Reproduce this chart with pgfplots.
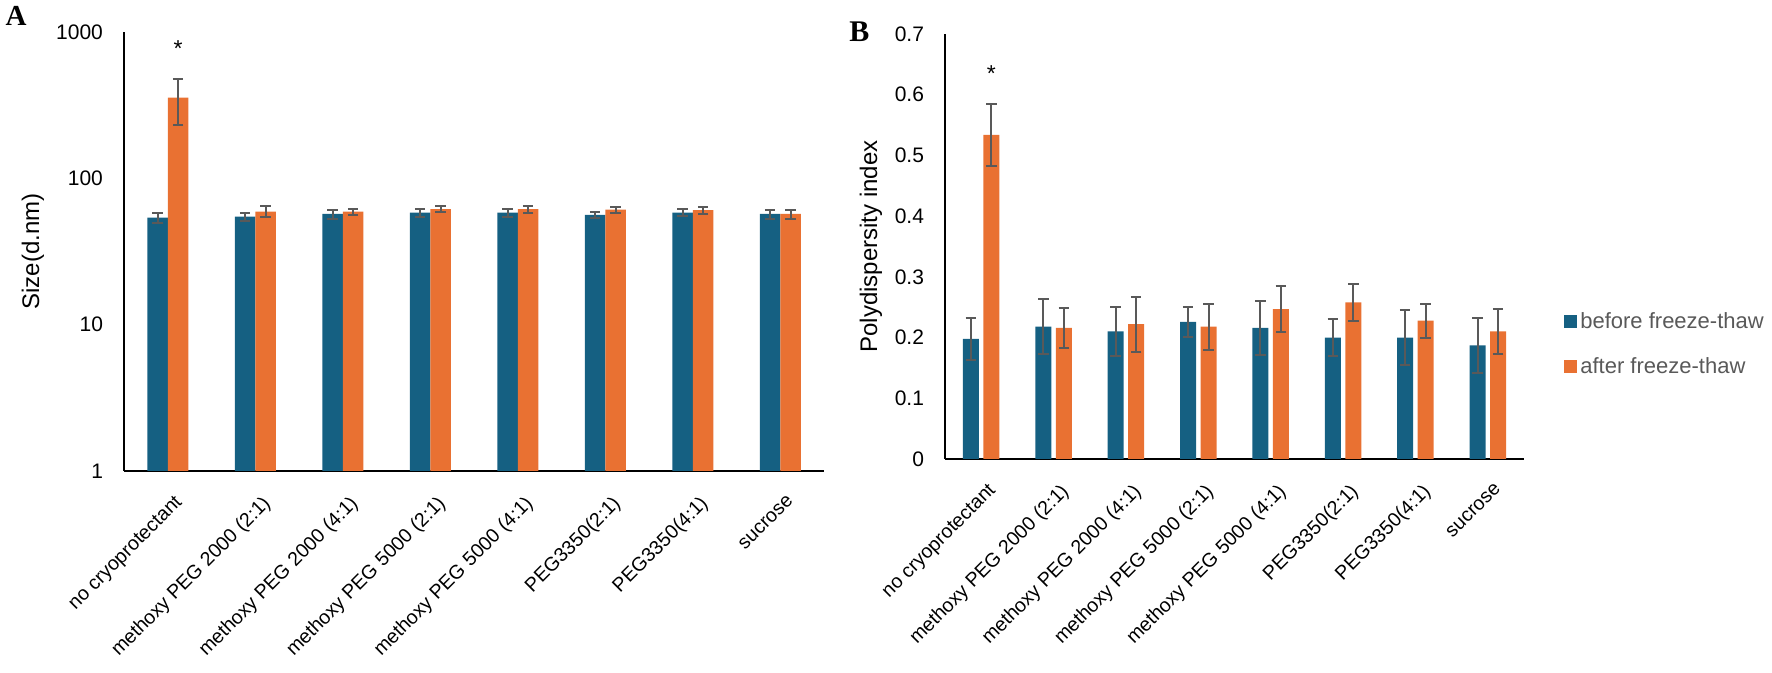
\documentclass[border=0pt]{standalone}
\usepackage{pgfplots}
\pgfplotsset{compat=1.18}
\usepackage{fontspec}
\setmainfont{Liberation Sans}
\newfontfamily\panelfont{Liberation Serif}

\definecolor{cblue}{HTML}{156082}
\definecolor{corange}{HTML}{E97132}
\definecolor{errgrey}{HTML}{595959}
\definecolor{legtext}{HTML}{595959}

% size, nm (before / after freeze-thaw)
\pgfplotstableread{
x  y     err
0  53.9  4.0
1  54.7  3.5
2  57.1  4.0
3  58.3  3.5
4  58.3  3.5
5  56.2  3.0
6  58.3  3.0
7  57.1  4.0
}\sizebefore
\pgfplotstableread{
x  y     err
0  356   125
1  59.2  5.0
2  59.2  3.0
3  61.5  3.0
4  61.5  3.5
5  61.1  2.7
6  60.6  3.5
7  57.1  4.0
}\sizeafter

% polydispersity index
\pgfplotstableread{
x  y      err
0  0.198  0.035
1  0.218  0.045
2  0.210  0.041
3  0.226  0.025
4  0.216  0.045
5  0.200  0.031
6  0.200  0.045
7  0.187  0.045
}\pdibefore
\pgfplotstableread{
x  y      err
0  0.534  0.051
1  0.216  0.033
2  0.222  0.045
3  0.218  0.038
4  0.247  0.038
5  0.258  0.030
6  0.228  0.028
7  0.210  0.037
}\pdiafter

\pgfplotsset{
  panel/.style={
    scale only axis,
    clip mode=individual,
    axis lines=left,
    axis line style={line width=1pt,-},
    major tick length=0pt,
    minor tick length=0pt,
    xmin=-0.5, xmax=7.5,
    xtick={0,...,7},
    xticklabels={no cryoprotectant,methoxy PEG 2000 (2:1),methoxy PEG 2000 (4:1),methoxy PEG 5000 (2:1),methoxy PEG 5000 (4:1),PEG3350(2:1),PEG3350(4:1),sucrose},
    xticklabel style={xshift=3pt, yshift=-10pt, rotate=45, anchor=north east,
      font=\fontsize{9.8}{12}\selectfont, inner sep=1pt},
    yticklabel style={font=\fontsize{10.5}{12}\selectfont, xshift=-7pt},
    /pgf/number format/assume math mode=true,
    error bars/y dir=both,
    error bars/y explicit,
    error bars/error mark=-,
    error bars/error bar style={line width=1pt, color=errgrey},
    error bars/error mark options={rotate=90, line width=1pt, mark size=2.6pt, color=errgrey},
  },
}

\begin{document}
\begin{tikzpicture}
\useasboundingbox (0,0) rectangle (886pt,336.5pt);

% panel A
\begin{axis}[panel,
    at={(62pt,101pt)}, anchor=south west,
    width=350pt, height=219.5pt,
    ymode=log, ymin=1, ymax=1000,
    ytick={1,10,100,1000}, yticklabels={1,10,100,1000},
    ybar=0pt, bar width=10.25pt,
    ylabel={Size(d.nm)},
    every axis y label/.style={at={(axis description cs:-0.13,0.5)}, rotate=90,
      anchor=center, font=\fontsize{12}{14}\selectfont},
  ]
  \addplot[fill=cblue, draw=none] table[x=x, y=y, y error=err] {\sizebefore};
  \addplot[fill=corange, draw=none] table[x=x, y=y, y error=err] {\sizeafter};
  \node[font=\fontsize{11.5}{13}\selectfont, anchor=base] at (axis cs:0.117,676) {*};
  \node[font=\panelfont\bfseries\fontsize{14.5}{16}\selectfont] at (axis description cs:-0.154,1.036) {A};
\end{axis}

% panel B
\begin{axis}[panel,
    at={(472.5pt,107pt)}, anchor=south west,
    width=289.5pt, height=212.5pt,
    ymin=0, ymax=0.7,
    ytick={0,0.1,...,0.7},
    yticklabel style={/pgf/number format/fixed, /pgf/number format/precision=1},
    ybar=2.25pt, bar width=8pt,
    ylabel={Polydispersity index},
    every axis y label/.style={at={(axis description cs:-0.128,0.5)}, rotate=90,
      anchor=center, font=\fontsize{12}{14}\selectfont},
    legend style={at={(axis description cs:1.069,0.27)}, anchor=west,
      draw=none, fill=none, font=\fontsize{11}{13}\selectfont, text=legtext,
      row sep=10pt, inner sep=0pt, nodes={inner sep=1.5pt}},
    legend cell align=left,
    legend image code/.code={\fill[#1] (0pt,-3.25pt) rectangle (6.5pt,3.25pt);},
  ]
  \addplot[fill=cblue, draw=none] table[x=x, y=y, y error=err] {\pdibefore};
  \addlegendentry{before freeze-thaw}
  \addplot[fill=corange, draw=none] table[x=x, y=y, y error=err] {\pdiafter};
  \addlegendentry{after freeze-thaw}
  \node[font=\fontsize{11.5}{13}\selectfont, anchor=base] at (axis cs:0.141,0.621) {*};
  \node[font=\panelfont\bfseries\fontsize{15}{17}\selectfont] at (axis description cs:-0.148,1.006) {B};
\end{axis}
\end{tikzpicture}
\end{document}
